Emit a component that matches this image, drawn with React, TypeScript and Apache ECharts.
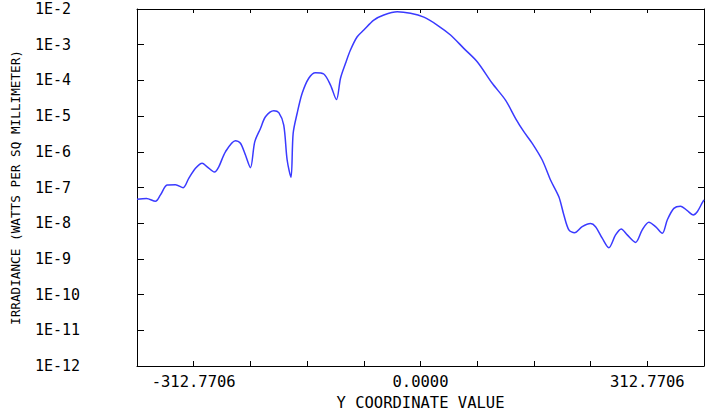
import React, { useEffect, useRef } from "react";
import * as echarts from "echarts";

const xValues: number[] = [
  -390.9, -377.9, -365.5, -358.6, -349.4, -337.9, -327.3, -319.6, -310.3, -301.1,
  -294.2, -284.1, -278.2, -269.0, -255.2, -248.3, -241.4, -234.5, -228.6, -220.7,
  -213.8, -202.3, -195.4, -188.6, -183.9, -178.6, -175.6, -170.1, -163.2, -154.1,
  -144.8, -133.4, -124.1, -115.9, -110.3, -103.4, -96.6, -87.3, -78.2, -64.4,
  -50.6, -32.1, -13.8, 4.6, 23.0, 41.4, 59.7, 78.2, 98.9, 117.2,
  131.0, 142.5, 154.1, 167.9, 179.3, 190.8, 197.7, 204.6, 212.4, 223.0,
  234.5, 241.4, 250.6, 259.7, 269.0, 276.8, 285.1, 296.6, 305.8, 314.9,
  324.1, 333.4, 340.3, 349.4, 358.6, 367.9, 376.1, 381.7, 388.6, 390.9,
];

const irradiance: number[] = [
  4.7e-8, 4.9e-8, 4.1e-8, 6.2e-8, 1.17e-7, 1.2e-7, 9.9e-8, 1.8e-7, 3.45e-7, 4.8e-7,
  3.8e-7, 2.7e-7, 3.8e-7, 1.0e-6, 2.05e-6, 1.73e-6, 8.1e-7, 3.6e-7, 1.9e-6, 4.5e-6,
  9.6e-6, 1.42e-5, 1.25e-5, 5.6e-6, 5.9e-7, 1.93e-7, 3.3e-6, 1.2e-5, 4.35e-5, 1.15e-4,
  1.64e-4, 1.51e-4, 7.4e-5, 2.9e-5, 1.15e-4, 3.0e-4, 7.1e-4, 1.67e-3, 2.58e-3, 4.9e-3,
  6.8e-3, 8.4e-3, 7.6e-3, 5.9e-3, 3.56e-3, 1.87e-3, 7.9e-4, 3.34e-4, 8.3e-5, 2.8e-5,
  8.7e-6, 3.66e-6, 1.73e-6, 5.9e-7, 1.62e-7, 5.5e-8, 1.7e-8, 6.5e-9, 5.4e-9, 8.0e-9,
  9.8e-9, 8.0e-9, 3.8e-9, 2.06e-9, 4.7e-9, 6.9e-9, 4.7e-9, 2.9e-9, 6.5e-9, 1.06e-8,
  8.0e-9, 5.2e-9, 1.23e-8, 2.6e-8, 3.0e-8, 2.24e-8, 1.7e-8, 2.1e-8, 3.75e-8, 4.5e-8,
];

const xTickInterval = 78.19265;
const xMin = -5 * xTickInterval;
const xMax = 5 * xTickInterval;
const xLabelValues: number[] = [-312.7706, 0, 312.7706];
const yMin = 1e-12;
const yMax = 1e-2;

const FONT = "DejaVu Sans Mono";

export default function App() {
  const ref = useRef<HTMLDivElement>(null);
  useEffect(() => {
    if (!ref.current) return;
    const chart = echarts.init(ref.current, undefined, { renderer: "svg" });
    const lineStyle = { color: "#000", width: 1 };
    chart.setOption({
      animation: false,
      backgroundColor: "#fff",
      grid: {
        left: 137,
        right: 2,
        top: 9,
        bottom: 45,
        containLabel: false,
        outerBoundsMode: "none",
      },
      xAxis: [
        {
          type: "value",
          position: "bottom",
          min: xMin,
          max: xMax,
          interval: xTickInterval,
          name: "Y COORDINATE VALUE",
          nameLocation: "middle",
          nameGap: 29,
          nameTextStyle: { fontFamily: FONT, fontSize: 15.5, color: "#000" },
          axisLine: { show: true, onZero: false, lineStyle },
          axisTick: { show: true, inside: true, length: 5, lineStyle },
          splitLine: { show: false },
          axisLabel: {
            fontFamily: FONT,
            fontSize: 15.5,
            color: "#000",
            margin: 8,
            showMinLabel: true,
            showMaxLabel: true,
            formatter: (v: number) => {
              const hit = xLabelValues.find((t) => Math.abs(t - v) < 0.01);
              return hit === undefined ? "" : hit.toFixed(4);
            },
          },
        },
        {
          type: "value",
          position: "top",
          min: xMin,
          max: xMax,
          interval: xTickInterval,
          axisLine: { show: true, onZero: false, lineStyle },
          axisTick: { show: true, inside: true, length: 4, lineStyle },
          axisLabel: { show: false },
          splitLine: { show: false },
        },
      ],
      yAxis: [
        {
          type: "log",
          logBase: 10,
          position: "left",
          min: yMin,
          max: yMax,
          name: "IRRADIANCE (WATTS PER SQ MILLIMETER)",
          nameLocation: "middle",
          nameGap: 115,
          nameRotate: 90,
          nameTextStyle: { fontFamily: FONT, fontSize: 12.7, color: "#000" },
          axisLine: { show: true, onZero: false, lineStyle },
          axisTick: { show: true, inside: true, length: 7, lineStyle },
          splitLine: { show: false },
          axisLabel: {
            fontFamily: FONT,
            fontSize: 15,
            color: "#000",
            align: "left",
            margin: 102,
            formatter: (v: number) => "1E" + Math.round(Math.log10(v)),
          },
        },
        {
          type: "log",
          logBase: 10,
          position: "right",
          min: yMin,
          max: yMax,
          axisLine: { show: true, onZero: false, lineStyle },
          axisTick: { show: true, inside: true, length: 6, lineStyle },
          axisLabel: { show: false },
          splitLine: { show: false },
        },
      ],
      series: [
        {
          type: "line",
          xAxisIndex: 0,
          yAxisIndex: 0,
          data: xValues.map((x, i) => [x, irradiance[i]]),
          showSymbol: false,
          smooth: 0.3,
          lineStyle: { color: "#3a3aff", width: 1.5 },
          clip: true,
        },
      ],
    });
    return () => chart.dispose();
  }, []);
  return <div ref={ref} style={{ width: 706, height: 411, position: "absolute", left: 0, top: 0 }} />;
}
